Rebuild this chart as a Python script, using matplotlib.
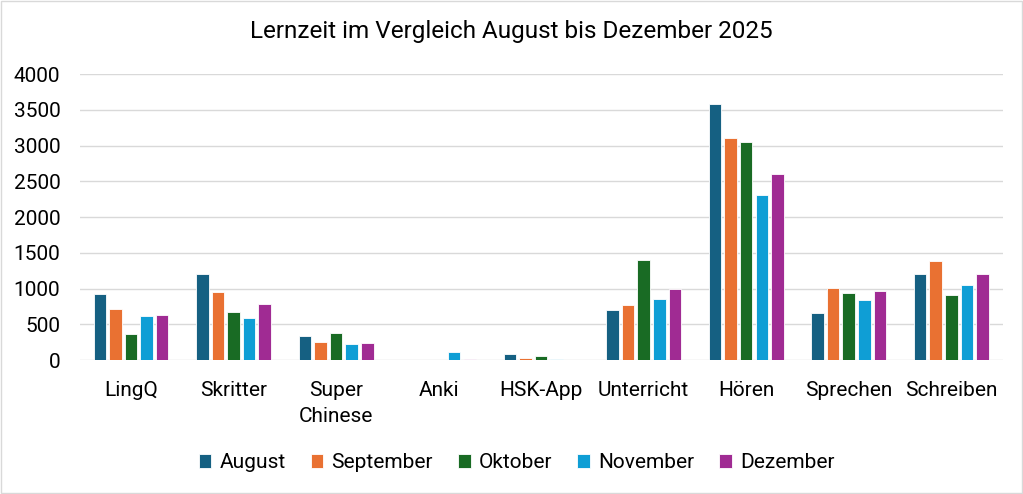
import matplotlib
matplotlib.use("Agg")
import matplotlib.pyplot as plt
import numpy as np

plt.rcParams['font.family'] = ['Roboto', 'DejaVu Sans']

categories = ["LingQ", "Skritter", "Super\nChinese", "Anki", "HSK-App", "Unterricht", "Hören", "Sprechen", "Schreiben"]
months = ["August", "September", "Oktober", "November", "Dezember"]
august    = [920, 1203, 340, 0, 85, 700, 3575, 653, 1207]
september = [710, 947, 252, 0, 32, 765, 3100, 1003, 1380]
oktober   = [364, 667, 378, 0, 56, 1400, 3044, 937, 905]
november  = [612, 583, 228, 110, 15, 849, 2312, 839, 1053]
dezember  = [625, 779, 238, 15, 0, 989, 2606, 961, 1198]
series = [august, september, oktober, november, dezember]
colors = ["#156082", "#E97132", "#196B24", "#0F9ED5", "#A02B93"]
yticks = [0, 500, 1000, 1500, 2000, 2500, 3000, 3500, 4000]

fig = plt.figure(figsize=(10.23, 4.94), dpi=100)
ax = fig.add_axes([0.078, 0.271, 0.902, 0.579])

x = np.arange(len(categories))
slot = 0.152
bw = 0.122
for i, (vals, c, m) in enumerate(zip(series, colors, months)):
    ax.bar(x + (i - 2) * slot, vals, width=bw, color=c, label=m,
           edgecolor='white', linewidth=0.6, zorder=3)

ax.set_xlim(-0.5, len(categories) - 0.5)
ax.set_ylim(0, 4000)
ax.set_yticks(yticks)
ax.set_yticklabels([str(v) for v in yticks], fontsize=15)
ax.set_xticks(x)
ax.set_xticklabels(categories, fontsize=15, va='top', linespacing=1.5)
ax.tick_params(axis='y', length=0, pad=14)
ax.tick_params(axis='x', length=0, pad=15)
ax.grid(axis='y', color='#D9D9D9', linewidth=1, zorder=0)
for s in ax.spines.values():
    s.set_visible(False)

fig.suptitle("Lernzeit im Vergleich August bis Dezember 2025", fontsize=17.5, y=0.96)

fig.legend(loc='center', bbox_to_anchor=(0.505, 0.063), ncol=5, frameon=False,
           fontsize=15, handlelength=0.6, handleheight=0.6, handletextpad=0.4,
           columnspacing=1.2)

fig.patches.append(plt.Rectangle((0.001, 0.002), 0.998, 0.996, transform=fig.transFigure,
                                 fill=False, edgecolor='#D9D9D9', linewidth=1))
fig.savefig("out.png", dpi=100)
